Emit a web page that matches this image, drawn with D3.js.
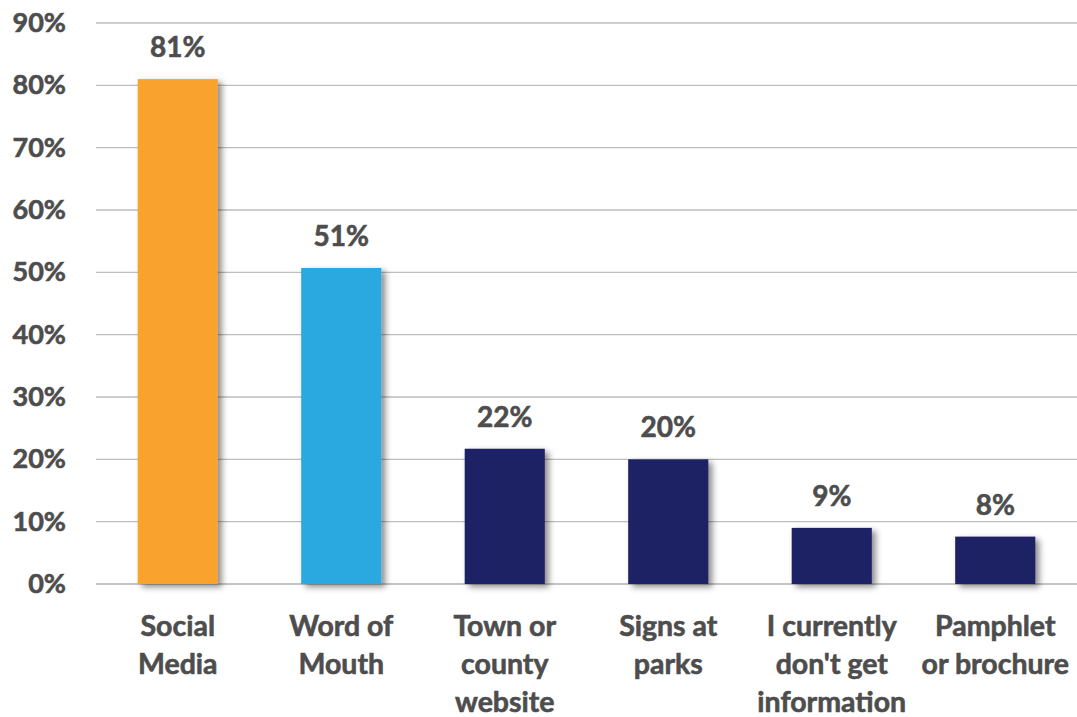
<!DOCTYPE html>
<html>
<head>
<meta charset="utf-8">
<script src="https://cdn.jsdelivr.net/npm/d3@7"></script>
<style>
  body { margin: 0; background: #fff; }
  text { font-family: Lato, "Open Sans", sans-serif; font-weight: bold; fill: #4d4d4d; stroke: #4d4d4d; stroke-width: 0.6px; }
</style>
</head>
<body>
<div class="chart"></div>
<script>
// Data
const categories = [
  ["Social", "Media"],
  ["Word of", "Mouth"],
  ["Town or", "county", "website"],
  ["Signs at", "parks"],
  ["I currently", "don't get", "information"],
  ["Pamphlet", "or brochure"]
];
const values = [0.81, 0.507, 0.217, 0.20, 0.09, 0.076];
const barColors = ["#f9a22f", "#29a9e1", "#1e2263", "#1e2263", "#1e2263", "#1e2263"];
const yTicks = [0, 0.1, 0.2, 0.3, 0.4, 0.5, 0.6, 0.7, 0.8, 0.9];

const width = 1077, height = 717;
const margin = { top: 23, right: 0, bottom: 133, left: 96 };

const svg = d3.select(".chart").append("svg")
  .attr("width", width)
  .attr("height", height);

// Shadow behind bars
const defs = svg.append("defs");
defs.append("filter")
  .attr("id", "shadow")
  .attr("x", "-20%").attr("y", "-20%")
  .attr("width", "150%").attr("height", "150%")
  .append("feDropShadow")
  .attr("dx", 4).attr("dy", 3)
  .attr("stdDeviation", 3)
  .attr("flood-color", "#000")
  .attr("flood-opacity", 0.45);

const x = d3.scaleBand()
  .domain(d3.range(categories.length))
  .range([margin.left, width - margin.right])
  .paddingInner(0.51)
  .paddingOuter(0.255);

const y = d3.scaleLinear()
  .domain([0, 0.9])
  .range([height - margin.bottom, margin.top]);

// Gridlines
svg.append("g")
  .selectAll("line")
  .data(yTicks)
  .enter()
  .append("line")
  .attr("x1", margin.left)
  .attr("x2", width - margin.right)
  .attr("y1", d => y(d))
  .attr("y2", d => y(d))
  .attr("stroke", d => d === 0 ? "#c4c4c4" : "#bdbdbd")
  .attr("stroke-width", d => d === 0 ? 2 : 1.3);

// Y axis labels
const yAxis = svg.append("g")
  .attr("transform", `translate(${margin.left},0)`)
  .call(d3.axisLeft(y).tickValues(yTicks).tickFormat(d3.format(".0%")).tickSize(0).tickPadding(30));
yAxis.select(".domain").remove();
yAxis.selectAll("text")
  .attr("font-size", 27)
  .attr("font-family", null)
  .attr("fill", null);

// Bars
svg.append("g")
  .selectAll("rect")
  .data(values)
  .enter()
  .append("rect")
  .attr("x", (d, i) => x(i))
  .attr("y", d => y(d))
  .attr("width", x.bandwidth())
  .attr("height", d => y(0) - y(d))
  .attr("fill", (d, i) => barColors[i])
  .attr("filter", "url(#shadow)");

// Value labels
svg.append("g")
  .selectAll("text")
  .data(values)
  .enter()
  .append("text")
  .attr("x", (d, i) => x(i) + x.bandwidth() / 2)
  .attr("y", d => y(d) - 22)
  .attr("text-anchor", "middle")
  .attr("font-size", 28)
  .text(d => d3.format(".0%")(d));

// Category labels
const catLabels = svg.append("g")
  .selectAll("text")
  .data(categories)
  .enter()
  .append("text")
  .attr("text-anchor", "middle")
  .attr("font-size", 28.5)
  .attr("transform", (d, i) => `translate(${x(i) + x.bandwidth() / 2},${y(0) + 52})`);
catLabels.selectAll("tspan")
  .data(d => d)
  .enter()
  .append("tspan")
  .attr("x", 0)
  .attr("y", (d, i) => i * 38)
  .text(d => d);
</script>
</body>
</html>
